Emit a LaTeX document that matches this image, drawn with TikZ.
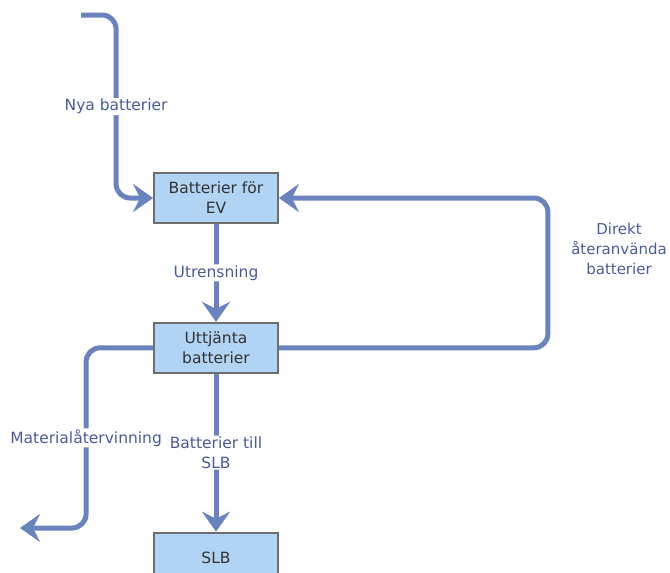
\documentclass[tikz,border=0pt]{standalone}
\usepackage{fontspec}
\setmainfont{DejaVu Sans}
\definecolor{FlowBlue}{HTML}{6A82BD}
\definecolor{LabelBlue}{HTML}{4A5B9C}
\definecolor{BoxFill}{HTML}{B1D4F4}
\definecolor{BoxLine}{HTML}{6E6E6E}
\usetikzlibrary{arrows.meta,positioning}

\begin{document}
\begin{tikzpicture}
    [x=1pt,y=-1pt,
    every node/.style={font=\fontsize{15.5}{20}\selectfont, align=center},
    stock/.style={draw=BoxLine, fill=BoxFill, line width=1.8pt, text=black!80,
        minimum width=124pt, minimum height=50pt, inner sep=2pt},
    flow/.style={draw=FlowBlue, line width=5pt, rounded corners=14pt,
        -{Stealth[length=20pt,width=28pt,inset=7pt]}},
    lbl/.style={fill=white, text=LabelBlue, inner sep=1pt}]

    \useasboundingbox (0,0) rectangle (670,573);

    % stocks
    \node [stock] (ev) at (216,198) {Batterier för\\EV};
    \node [stock, below=98pt of ev] (used) {Uttjänta\\batterier};
    \node [stock, below=158pt of used] (slb) {SLB};

    \coordinate (in) at (81,15);
    \coordinate (out) at (20,528);

    % flows
    \draw [flow] (in) -| node [lbl, pos=0.75] {Nya batterier} ([xshift=-37pt]ev.west) -- (ev.west);
    \draw [flow] (ev) -- node [lbl] {Utrensning} (used);
    \draw [flow] (used.east) -- ++(269pt,0) |- (ev.east);
    \draw [flow] (used.west) -- ++(-67pt,0) |- node [lbl, pos=0.25] {Materialåtervinning} (out);
    \draw [flow] (used) -- node [lbl] {Batterier till\\SLB} (slb);

    \node [text=LabelBlue, font=\fontsize{15}{20}\selectfont, inner sep=0pt] (reuse) at (619,249) {Direkt\\återanvända\\batterier};
\end{tikzpicture}
\end{document}
